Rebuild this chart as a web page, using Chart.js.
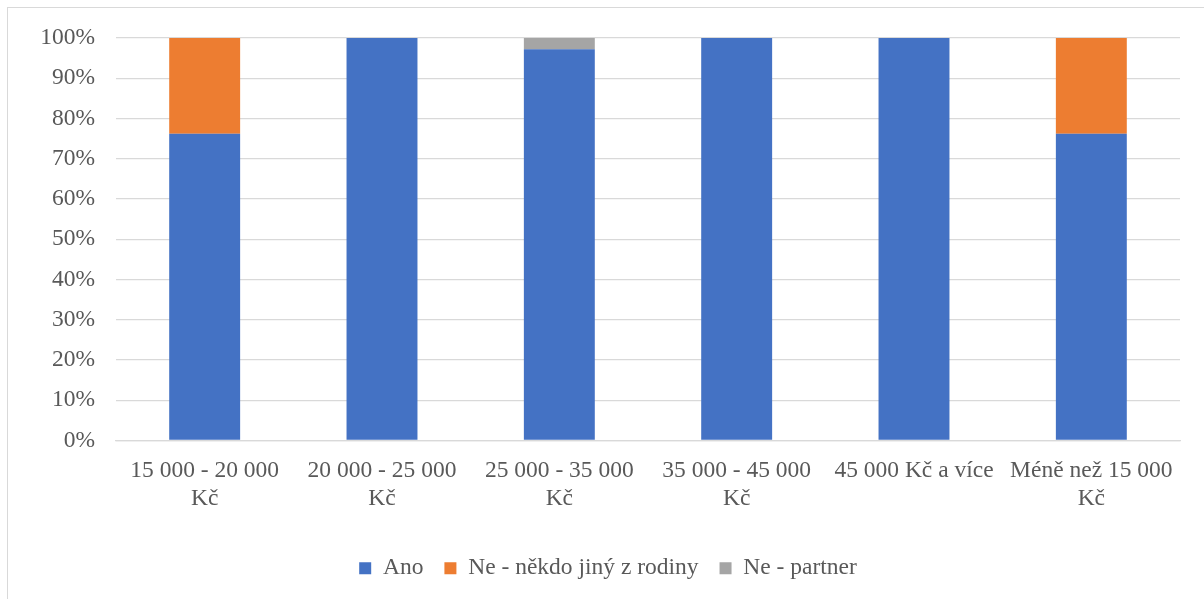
<!DOCTYPE html>
<html>
<head>
<meta charset="utf-8">
<script src="https://cdn.jsdelivr.net/npm/chart.js@4/dist/chart.umd.min.js"></script>
<style>
    html, body { margin: 0; padding: 0; background: #fff; overflow: hidden; }
    .frame {
        position: absolute; left: 7px; top: 7px; width: 1220px; height: 620px;
        border: 1px solid #d9d9d9; box-sizing: border-box;
    }
    .wrap { position: absolute; left: 0; top: 0; width: 1204px; height: 599px; }
</style>
</head>
<body>
<div class="frame"></div>
<div class="wrap"><canvas id="chart" width="1204" height="599"></canvas></div>
<script>
// Data
const categories = [
    ['15 000 - 20 000', 'Kč'],
    ['20 000 - 25 000', 'Kč'],
    ['25 000 - 35 000', 'Kč'],
    ['35 000 - 45 000', 'Kč'],
    '45 000 Kč a více',
    ['Méně než 15 000', 'Kč']
];
const ano = [76.2, 100, 97.2, 100, 100, 76.2];
const nekdoJiny = [23.8, 0, 0, 0, 0, 23.8];
const partner = [0, 0, 2.8, 0, 0, 0];
const yTicks = [0, 10, 20, 30, 40, 50, 60, 70, 80, 90, 100];

const fontFamily = '"Liberation Serif", "Times New Roman", serif';
const textColor = '#595959';

const ctx = document.getElementById('chart').getContext('2d');
new Chart(ctx, {
    type: 'bar',
    data: {
        labels: categories,
        datasets: [
            { label: 'Ano', data: ano, backgroundColor: '#4472C4' },
            { label: 'Ne - někdo jiný z rodiny', data: nekdoJiny, backgroundColor: '#ED7D31' },
            { label: 'Ne - partner', data: partner, backgroundColor: '#A5A5A5' }
        ]
    },
    options: {
        responsive: false,
        animation: false,
        layout: { padding: { top: 38, right: 24, left: 36, bottom: 9 } },
        datasets: { bar: { categoryPercentage: 1, barPercentage: 0.4 } },
        plugins: {
            tooltip: { enabled: false },
            legend: {
                position: 'bottom',
                labels: {
                    color: textColor,
                    font: { family: fontFamily, size: 23.5 },
                    boxWidth: 12,
                    boxHeight: 12,
                    padding: 21
                }
            }
        },
        scales: {
            x: {
                stacked: true,
                grid: { display: false, drawTicks: false },
                border: { color: '#d9d9d9', width: 1.3 },
                ticks: {
                    color: textColor,
                    font: { family: fontFamily, size: 23.5, lineHeight: 1.2 },
                    padding: 16,
                    maxRotation: 0,
                    autoSkip: false
                },
                afterFit: scale => { scale.height = 95; }
            },
            y: {
                stacked: true,
                min: 0,
                max: 100,
                afterBuildTicks: scale => { scale.ticks = yTicks.map(v => ({ value: v })); },
                grid: { color: '#d9d9d9', lineWidth: 1.3, drawTicks: false },
                border: { display: false },
                ticks: {
                    color: textColor,
                    font: { family: fontFamily, size: 23.5 },
                    padding: 21,
                    callback: v => v + '%'
                },
                afterFit: scale => { scale.width = 80; }
            }
        }
    }
});
</script>
</body>
</html>
